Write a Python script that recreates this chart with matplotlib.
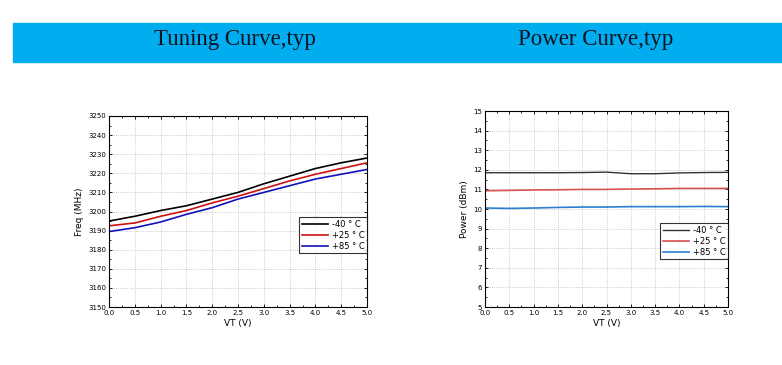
import matplotlib
matplotlib.use("Agg")
import matplotlib.pyplot as plt
from matplotlib.patches import Rectangle
from matplotlib.ticker import AutoMinorLocator

vt = [0.0, 0.5, 1.0, 1.5, 2.0, 2.5, 3.0, 3.5, 4.0, 4.5, 5.0]
labels = ["-40 \u00b0 C", "+25 \u00b0 C", "+85 \u00b0 C"]

freq_m40 = [3195, 3197.5, 3200.5, 3203, 3206.5, 3210, 3214.5, 3218.5, 3222.5, 3225.5, 3228]
freq_p25 = [3192.5, 3194, 3197.5, 3200.5, 3204.5, 3208, 3212, 3216, 3219.5, 3222.5, 3225.5]
freq_p85 = [3189.5, 3191.5, 3194.5, 3198.5, 3202, 3206.5, 3210, 3213.5, 3217, 3219.5, 3222]

pwr_m40 = [11.85, 11.85, 11.85, 11.85, 11.86, 11.88, 11.8, 11.8, 11.84, 11.86, 11.87]
pwr_p25 = [10.93, 10.95, 10.97, 10.98, 11.0, 11.0, 11.02, 11.03, 11.05, 11.05, 11.05]
pwr_p85 = [10.05, 10.03, 10.05, 10.08, 10.1, 10.1, 10.12, 10.12, 10.12, 10.13, 10.12]

W, H = 782, 365
fig = plt.figure(figsize=(W / 100, H / 100), dpi=100)

# blue banner with titles
fig.patches.append(Rectangle((13 / W, 1 - 62 / H), 1 - 13 / W, 39 / H,
                             transform=fig.transFigure, color="#00aeef", zorder=0))
fig.text(235 / W, 1 - 39 / H, "Tuning Curve,typ", ha="center", va="center",
         family="Liberation Serif", fontsize=16.5, color="#111122")
fig.text(596 / W, 1 - 39 / H, "Power Curve,typ", ha="center", va="center",
         family="Liberation Serif", fontsize=16.5, color="#111122")


def style_axes(ax):
    ax.xaxis.set_minor_locator(AutoMinorLocator(2))
    ax.yaxis.set_minor_locator(AutoMinorLocator(2))
    ax.tick_params(which="both", direction="in", top=True, right=True, width=0.6)
    ax.tick_params(which="major", labelsize=5, length=2.5, pad=2)
    ax.tick_params(which="minor", length=1.5)
    ax.grid(True, which="major", linestyle=":", color="#bbbbbb", linewidth=0.6)
    for s in ax.spines.values():
        s.set_linewidth(0.8)
    ax.set_xlim(0, 5)
    ax.set_xticks(vt)
    ax.set_xticklabels([f"{v:.1f}" for v in vt])
    ax.set_xlabel("VT (V)", fontsize=6.5, labelpad=2)


def add_legend(ax, y):
    leg = ax.legend(loc="center right", bbox_to_anchor=(1.0, y), fontsize=6, frameon=True,
                    fancybox=False, edgecolor="black", handlelength=3.2, borderpad=0.3,
                    labelspacing=0.25, handletextpad=0.4, borderaxespad=0)
    leg.get_frame().set_linewidth(0.8)


ax1 = fig.add_axes([109 / W, 1 - 307 / H, 258 / W, 191 / H])
ax1.plot(vt, freq_m40, color="black", lw=1.2, label=labels[0])
ax1.plot(vt, freq_p25, color="#cc1111", lw=1.2, label=labels[1])
ax1.plot(vt, freq_p85, color="#1111bb", lw=1.2, label=labels[2])
ax1.set_ylim(3150, 3250)
ax1.set_yticks(range(3150, 3251, 10))
ax1.set_ylabel("Freq (MHz)", fontsize=6.5, labelpad=3)
style_axes(ax1)
add_legend(ax1, 0.375)

ax2 = fig.add_axes([485 / W, 1 - 307 / H, 243 / W, 196 / H])
ax2.plot(vt, pwr_m40, color="#333333", lw=1.0, label=labels[0])
ax2.plot(vt, pwr_p25, color="#d9534f", lw=1.2, label=labels[1])
ax2.plot(vt, pwr_p85, color="#2a7fd4", lw=1.2, label=labels[2])
ax2.set_ylim(5, 15)
ax2.set_yticks(range(5, 16))
ax2.set_ylabel("Power (dBm)", fontsize=6.5, labelpad=3)
style_axes(ax2)
add_legend(ax2, 0.335)

fig.savefig("out.png", dpi=100)
